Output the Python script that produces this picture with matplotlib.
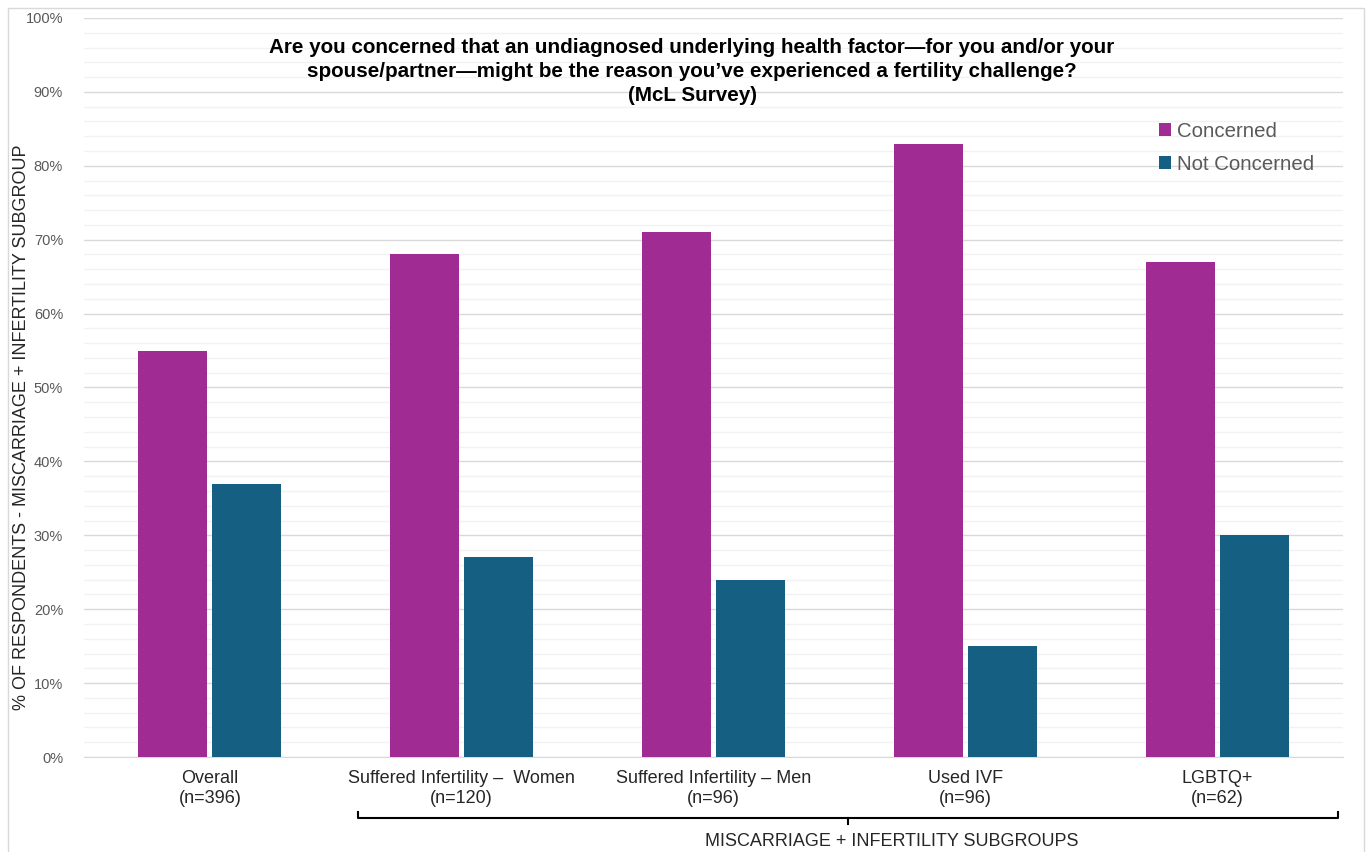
import matplotlib.pyplot as plt
import matplotlib.transforms as mtransforms
from matplotlib.patches import Rectangle
import numpy as np

plt.rcParams['font.family'] = ['Liberation Sans', 'DejaVu Sans']

groups = ["Overall\n(n=396)", "Suffered Infertility \u2013  Women\n(n=120)",
          "Suffered Infertility \u2013 Men\n(n=96)", "Used IVF\n(n=96)", "LGBTQ+\n(n=62)"]
concerned = [55, 68, 71, 83, 67]
not_concerned = [37, 27, 24, 15, 30]
series_names = ["Concerned", "Not Concerned"]
colors = ["#A02B93", "#156082"]

title = ("Are you concerned that an undiagnosed underlying health factor\u2014for you and/or your\n"
         "spouse/partner\u2014might be the reason you\u2019ve experienced a fertility challenge?\n"
         "(McL Survey)")

fig = plt.figure(figsize=(13.67, 8.52), dpi=100)
ax = fig.add_axes([0.0614, 0.1115, 0.921, 0.8674])

x = np.arange(len(groups))
w = 0.274
ax.bar(x - 0.147, concerned, w, color=colors[0], label=series_names[0], zorder=3)
ax.bar(x + 0.147, not_concerned, w, color=colors[1], label=series_names[1], zorder=3)

ax.set_xlim(-0.5, len(groups) - 0.5)
ax.set_ylim(0, 100)
ax.set_yticks(np.arange(0, 101, 10))
ax.set_yticks(np.arange(0, 101, 2), minor=True)
ax.set_yticklabels([f"{v}%" for v in range(0, 101, 10)])
ax.grid(axis='y', which='major', color='#d9d9d9', lw=1.0, zorder=0)
ax.grid(axis='y', which='minor', color='#f2f2f2', lw=1.0, zorder=0)
ax.set_xticks(x)
ax.set_xticklabels(groups, fontsize=13, color='#262626', linespacing=1.3)
ax.tick_params(axis='y', which='both', length=0, labelsize=10.5, labelcolor='#595959', pad=15)
ax.tick_params(axis='x', length=0, pad=9)
for s in ['top', 'right', 'left']:
    ax.spines[s].set_visible(False)
ax.spines['bottom'].set_color('#d9d9d9')

fig.text(22 / 1367, 1 - 427 / 852, "% OF RESPONDENTS - MISCARRIAGE + INFERTILITY SUBGROUP",
         rotation=90, ha='center', va='center', fontsize=13, color='#262626')

ax.text(0.483, 0.973, title, transform=ax.transAxes, ha='center', va='top',
        fontsize=14.9, fontweight='bold', linespacing=1.32)

leg = ax.legend(loc='upper left', bbox_to_anchor=(0.839, 0.884), frameon=False,
                fontsize=14.7, handlelength=0.6, handleheight=0.6, handletextpad=0.3,
                labelspacing=0.68, labelcolor='#595959')

# bracket under the subgroup categories
tr = mtransforms.blended_transform_factory(ax.transData, ax.transAxes)
x0, x1 = 0.59, 4.48
yb = -0.0825
ax.plot([x0, x0, x1, x1], [yb + 0.008, yb, yb, yb + 0.008], color='black', lw=1.5,
        transform=tr, clip_on=False)
xm = (x0 + x1) / 2
ax.plot([xm, xm], [yb, yb - 0.008], color='black', lw=1.5, transform=tr, clip_on=False)
ax.text(2.71, -0.115, "MISCARRIAGE + INFERTILITY SUBGROUPS", transform=tr,
        ha='center', va='center', fontsize=13, color='#262626')

fig.patches.append(Rectangle((8 / 1367, -0.01), 1356 / 1367, 1 - 8 / 852 + 0.01,
                             transform=fig.transFigure, fill=False, edgecolor='#d9d9d9', lw=1))

fig.savefig("out.png", dpi=100)
